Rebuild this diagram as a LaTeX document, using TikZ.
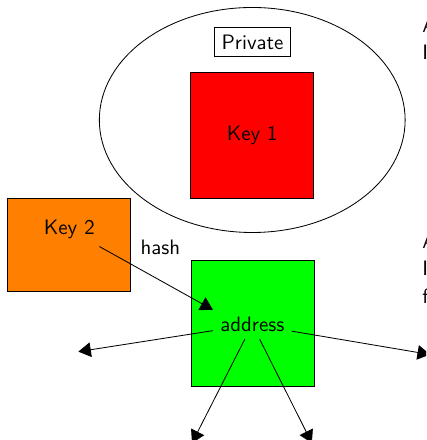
\documentclass[tikz,border=0pt]{standalone}
\usepackage{xcolor}
\usepackage{tikz}
\usetikzlibrary{arrows.meta}

\begin{document}
\begin{tikzpicture}[every node/.style={font=\sffamily},
  keybox/.style={draw, minimum width=2.07cm, minimum height=2.11cm, inner sep=0pt},
  link/.style={-{Triangle[length=6pt,width=7pt]}},
  note/.style={anchor=base west, inner sep=0pt}]
\useasboundingbox (0,0) rectangle (7.172,7.407);
\clip (0,0) rectangle (7.172,7.407);
\draw (4.246,5.387) ellipse (2.574 and 1.894);
\node[draw] (privlabel) at (4.251,6.700) {Private};
\node[keybox, fill=red] (key1) at (4.246,5.126) {Key 1};
\node[draw, fill=orange, minimum width=2.066cm, minimum height=1.572cm] (key2box) at (1.157,3.283) {};
\node (key2) at (1.167,3.539) {Key 2};
\node[keybox, fill=green] (addrbox) at (4.265,1.961) {};
\node (addr) at (4.247,1.944) {address};
\node (hash) at (2.699,3.249) {hash};
\node[note] (notea) at (7.104,6.852) {A};
\node[note] (noteb) at (7.104,6.397) {I};
\node[note] (notec) at (7.104,3.232) {A};
\node[note] (noted) at (7.104,2.761) {I};
\node[note] (notee) at (7.104,2.306) {f};
\coordinate (outw) at (1.318,1.487);
\coordinate (oute) at (7.239,1.439);
\coordinate (outsw) at (3.232,-0.051);
\coordinate (outse) at (5.25,-0.051);
\draw[link] (key2) -- (addr.north west);
\draw[link] (addr) -- (outw);
\draw[link] (addr) -- (oute);
\draw[link] (addr) -- (outsw);
\draw[link] (addr) -- (outse);
\end{tikzpicture}
\end{document}
